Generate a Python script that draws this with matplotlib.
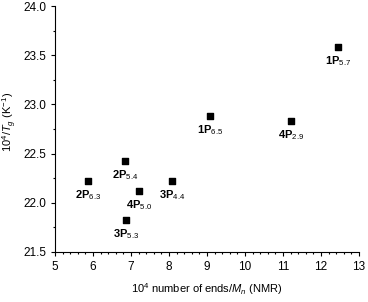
import matplotlib
matplotlib.use("Agg")
import matplotlib.pyplot as plt
from matplotlib.ticker import MultipleLocator, FormatStrFormatter

plt.rcParams['font.family'] = ['Liberation Sans', 'DejaVu Sans']
plt.rcParams['mathtext.fontset'] = 'custom'
plt.rcParams['mathtext.rm'] = 'Liberation Sans'
plt.rcParams['mathtext.it'] = 'Liberation Sans:italic'

# data
ends = [12.45, 9.07, 11.2, 6.84, 5.88, 7.21, 8.07, 6.87]
inv_tg = [23.58, 22.88, 22.83, 22.42, 22.22, 22.12, 22.22, 21.82]
names = ['1P', '1P', '4P', '2P', '2P', '4P', '3P', '3P']
subs = ['5.7', '6.5', '2.9', '5.4', '6.3', '5.0', '4.4', '5.3']

fig = plt.figure(figsize=(3.68, 3.02), dpi=100)
ax = fig.add_axes([0.1495, 0.166, 0.826, 0.814])

ax.scatter(ends, inv_tg, marker='s', s=14, color='black', zorder=3)
for x, y, n, s in zip(ends, inv_tg, names, subs):
    ax.annotate(n + '$_{' + s + '}$', xy=(x, y), xytext=(0, -5),
                textcoords='offset points', ha='center', va='top',
                fontsize=8, fontweight='bold')

ax.set_xlim(5, 13)
ax.set_ylim(21.5, 24.0)
ax.xaxis.set_major_locator(MultipleLocator(1))
ax.xaxis.set_minor_locator(MultipleLocator(0.2))
ax.yaxis.set_major_locator(MultipleLocator(0.5))
ax.yaxis.set_minor_locator(MultipleLocator(0.25))
ax.tick_params(which='both', direction='out', labelsize=8.5, width=0.8)
ax.tick_params(which='major', length=3)
ax.tick_params(which='minor', length=1.5)
ax.spines['top'].set_visible(False)
ax.spines['right'].set_visible(False)
ax.yaxis.set_major_formatter(FormatStrFormatter('%.1f'))

ax.set_xlabel('10$^4$ number of ends/$M_n$ (NMR)', fontsize=8, labelpad=6)
ax.set_ylabel('10$^4$/$T_g$ (K$^{-1}$)', fontsize=8)
ax.yaxis.set_label_coords(-0.12, 0.53)

fig.savefig('out.png', dpi=100)
